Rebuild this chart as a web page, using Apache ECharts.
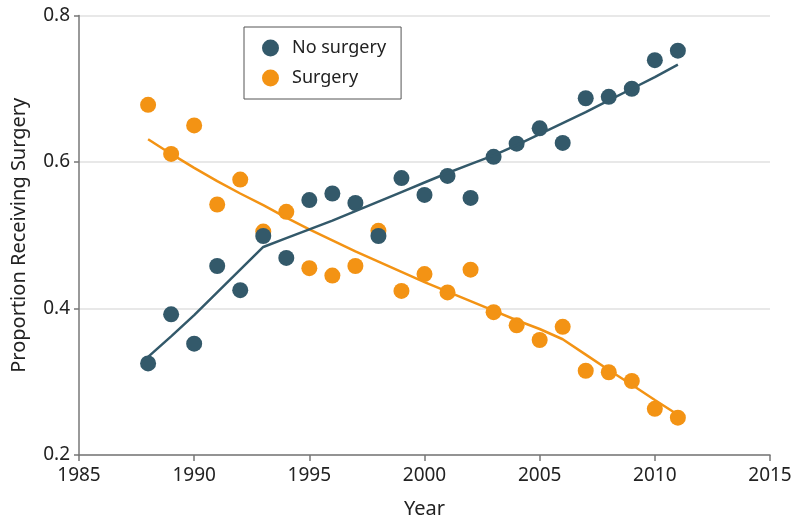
<!DOCTYPE html>
<html>
<head>
<meta charset="utf-8">
<script src="https://cdn.jsdelivr.net/npm/echarts@6/dist/echarts.min.js"></script>
<style>html,body{margin:0;padding:0;background:#fff}#chart{width:800px;height:528px}</style>
</head>
<body>
<div id="chart"></div>
<script>
var years = [1988,1989,1990,1991,1992,1993,1994,1995,1996,1997,1998,1999,2000,2001,2002,2003,2004,2005,2006,2007,2008,2009,2010,2011];
var noSurgery = [0.325,0.392,0.352,0.458,0.425,0.499,0.469,0.548,0.557,0.544,0.499,0.578,0.555,0.581,0.551,0.607,0.625,0.646,0.626,0.687,0.689,0.700,0.739,0.752];
var surgery = [0.678,0.611,0.650,0.542,0.576,0.505,0.532,0.455,0.445,0.458,0.506,0.424,0.447,0.422,0.453,0.395,0.377,0.357,0.375,0.315,0.313,0.301,0.263,0.251];
var noSurgeryFit = [0.334,0.362,0.391,0.422,0.453,0.484,0.496,0.508,0.520,0.533,0.546,0.559,0.572,0.585,0.597,0.609,0.623,0.638,0.653,0.668,0.684,0.700,0.716,0.733];
var surgeryFit = [0.631,0.611,0.592,0.574,0.557,0.541,0.524,0.508,0.493,0.478,0.464,0.450,0.436,0.423,0.410,0.397,0.384,0.372,0.358,0.337,0.316,0.296,0.275,0.255];
var xTicks = [1985,1990,1995,2000,2005,2010,2015];
var yTicks = [0.2,0.4,0.6,0.8];

function pairs(xs, ys){ return xs.map(function(x,i){ return [x, ys[i]]; }); }

var DARK = '#33596a', ORANGE = '#f39314';
var FONT = 'Noto Sans';
var chart = echarts.init(document.getElementById('chart'), null, {renderer:'canvas'});
chart.setOption({
  animation: false,
  textStyle: {fontFamily: FONT},
  grid: {left: 79, right: 30, top: 15.5, bottom: 73, containLabel: false},
  legend: {
    data: ['No surgery','Surgery'],
    orient: 'vertical',
    left: 244, top: 27,
    icon: 'circle',
    itemWidth: 17, itemHeight: 17,
    itemGap: 12,
    padding: [12, 15, 12, 18],
    borderColor: '#555', borderWidth: 1,
    textStyle: {fontFamily: FONT, fontSize: 18, color: '#222', padding: [0,0,0,8]}
  },
  xAxis: {
    type: 'value', min: xTicks[0], max: xTicks[xTicks.length-1], interval: 5,
    name: 'Year', nameLocation: 'middle', nameGap: 44,
    nameTextStyle: {fontFamily: FONT, fontSize: 20, color: '#222'},
    axisLine: {show: true, lineStyle: {color: '#777', width: 1.5}},
    axisTick: {show: true, length: 6, lineStyle: {color: '#777', width: 1.5}},
    axisLabel: {fontFamily: FONT, fontSize: 19, color: '#222', margin: 11,
      formatter: function(v){ return String(v); }},
    splitLine: {show: false}
  },
  yAxis: {
    type: 'value', min: yTicks[0], max: yTicks[yTicks.length-1], interval: 0.2,
    name: 'Proportion Receiving Surgery', nameLocation: 'middle', nameGap: 50,
    nameTextStyle: {fontFamily: FONT, fontSize: 20, color: '#222'},
    axisLine: {show: true, lineStyle: {color: '#777', width: 1.5}},
    axisTick: {show: true, length: 5, lineStyle: {color: '#777', width: 1.5}},
    axisLabel: {fontFamily: FONT, fontSize: 19, color: '#222', margin: 9,
      formatter: function(v){ return v.toFixed(1); }},
    splitLine: {show: true, lineStyle: {color: '#e0e0e0', width: 1.5}}
  },
  series: [
    {name: 'Surgery', type: 'scatter', data: pairs(years, surgery), symbolSize: 16,
     itemStyle: {color: ORANGE, opacity: 1}, z: 2},
    {name: 'No surgery', type: 'scatter', data: pairs(years, noSurgery), symbolSize: 16,
     itemStyle: {color: DARK, opacity: 1}, z: 3},
    {name: 'Surgery fit', type: 'line', data: pairs(years, surgeryFit), showSymbol: false, symbol: 'none',
     lineStyle: {color: ORANGE, width: 2.5}, z: 4},
    {name: 'No surgery fit', type: 'line', data: pairs(years, noSurgeryFit), showSymbol: false, symbol: 'none',
     lineStyle: {color: DARK, width: 2.5}, z: 4}
  ]
});
</script>
</body>
</html>
